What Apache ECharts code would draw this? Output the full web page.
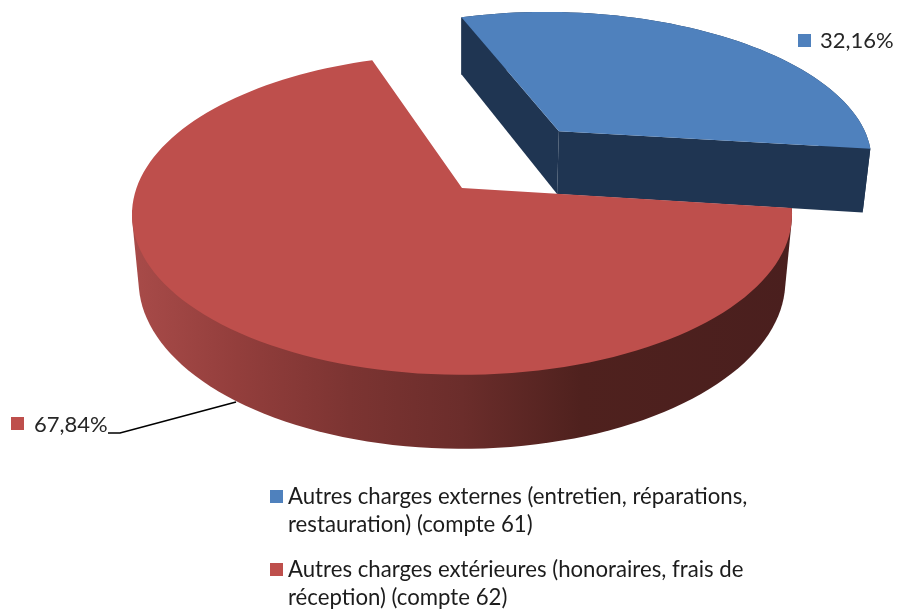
<!DOCTYPE html>
<html>
<head>
<meta charset="utf-8">
<style>
  html, body { margin: 0; padding: 0; background: #fff; }
  #chart { width: 899px; height: 612px; }
</style>
</head>
<body>
<div id="chart"></div>
<script src="https://cdn.jsdelivr.net/npm/echarts@6/dist/echarts.min.js"></script>
<script>
const names = [
  'Autres charges externes (entretien, réparations,\nrestauration) (compte 61)',
  'Autres charges extérieures (honoraires, frais de\nréception) (compte 62)'
];
const shares = [32.16, 67.84];
const colors = ['#4F81BD', '#BE4F4C'];

// the pie is a real projected disc: ECharts has no 3d pie without echarts-gl
const cx = 462, cy = 188;
const rx = 325.5, ry = 156, depth = 67;
const persp = 0.165, perspZ = 0.02;
const explode = [0.5, 0];
const redStart = 108.6; // degrees, red slice goes counter-clockwise from here
const wallBlue = '#1F3552';
const fontFamily = 'Lato, "Open Sans", sans-serif';

const labelPos = [
  { box: [798, 34], text: [820, 41] },
  { box: [11, 417], text: [34, 425], leader: [[108, 433], [120, 433], [236, 402]] }
];

// square on the first text line, blank points stretch the box over both lines
const legendIcon = 'path://M0 0L0 0M0 56L0 56M0 7h13v13h-13z';

function project(x, y, z) {
  const w = 1 + persp * y + perspZ * z;
  return [cx + rx * x / w, cy + (-ry * y + depth * z) / w];
}

// angle range of a slice, from the shares
function sliceRange(i) {
  const red = shares[1] * 3.6;
  return i === 1 ? [redStart, redStart + red] : [redStart + red - 360, redStart];
}

function arc(a0, a1, off, z) {
  const pts = [];
  const n = Math.ceil(Math.abs(a1 - a0) / 2);
  for (let k = 0; k <= n; k++) {
    const t = (a0 + (a1 - a0) * k / n) * Math.PI / 180;
    pts.push(project(Math.cos(t) + off[0], Math.sin(t) + off[1], z));
  }
  return pts;
}

// monotone chain, gives the straight silhouette between top and bottom rim
function hull(points) {
  const p = points.slice().sort((a, b) => a[0] - b[0] || a[1] - b[1]);
  const cross = (o, a, b) => (a[0] - o[0]) * (b[1] - o[1]) - (a[1] - o[1]) * (b[0] - o[0]);
  const half = list => {
    const out = [];
    list.forEach(q => {
      while (out.length > 1 && cross(out[out.length - 2], out[out.length - 1], q) <= 0) out.pop();
      out.push(q);
    });
    out.pop();
    return out;
  };
  return half(p).concat(half(p.slice().reverse()));
}

function poly(points, fill) {
  return { type: 'polygon', shape: { points: points }, style: { fill: fill } };
}

function renderSlice(params, api) {
  const i = params.seriesIndex;
  const value = api.value(0);
  const [a0, a1] = sliceRange(i);
  const mid = (a0 + a1) / 2 * Math.PI / 180;
  const off = [explode[i] * Math.cos(mid), explode[i] * Math.sin(mid)];
  const top = arc(a0, a1, off, 0);
  const apex = project(off[0], off[1], 0);
  const apexLow = project(off[0], off[1], 1);
  const children = [];

  if (i === 0) {
    const low = arc(a0, a1, off, 1);
    children.push(poly(top.concat(low.slice().reverse()), wallBlue));
    children.push(poly([apex, top[0], low[0], apexLow], wallBlue));
    children.push(poly([apex, top[top.length - 1], low[low.length - 1], apexLow], wallBlue));
  } else {
    // only the front of the rim shows
    const from = Math.max(a0, 188);
    const rim = hull(arc(from, a1, off, 0).concat(arc(from, a1, off, 1)));
    children.push(poly(rim, new echarts.graphic.LinearGradient(0, 0, 1, 0, [
      { offset: 0, color: '#A84B49' },
      { offset: 0.16, color: '#933E3C' },
      { offset: 0.33, color: '#7C3432' },
      { offset: 0.5, color: '#6B2D2B' },
      { offset: 0.68, color: '#4F211E' },
      { offset: 1, color: '#4A1F1E' }
    ])));
  }
  children.push(poly([apex].concat(top), colors[i]));

  const lp = labelPos[i];
  if (lp.leader) {
    children.push({
      type: 'polyline',
      shape: { points: lp.leader },
      style: { stroke: '#000', lineWidth: 1.7, fill: null }
    });
  }
  children.push({
    type: 'rect',
    shape: { x: lp.box[0], y: lp.box[1], width: 13, height: 13 },
    style: { fill: colors[i] }
  });
  children.push({
    type: 'text',
    style: {
      x: lp.text[0], y: lp.text[1],
      text: value.toFixed(2).replace('.', ',') + '%',
      fill: '#262626',
      font: '22px ' + fontFamily,
      verticalAlign: 'middle'
    }
  });
  return { type: 'group', children: children };
}

const chart = echarts.init(document.getElementById('chart'));
chart.setOption({
  animation: false,
  legend: {
    orient: 'vertical',
    left: 270,
    top: 483,
    height: 129,
    padding: 0,
    itemWidth: 13,
    itemHeight: 56,
    itemGap: 17,
    icon: legendIcon,
    data: names,
    textStyle: {
      color: '#1c1c1c',
      fontFamily: fontFamily,
      fontSize: 22.2,
      lineHeight: 28
    }
  },
  series: names.map((name, i) => ({
    type: 'custom',
    name: name,
    coordinateSystem: 'none',
    renderItem: renderSlice,
    itemStyle: { color: colors[i] },
    data: [[shares[i]]]
  }))
});
</script>
</body>
</html>
